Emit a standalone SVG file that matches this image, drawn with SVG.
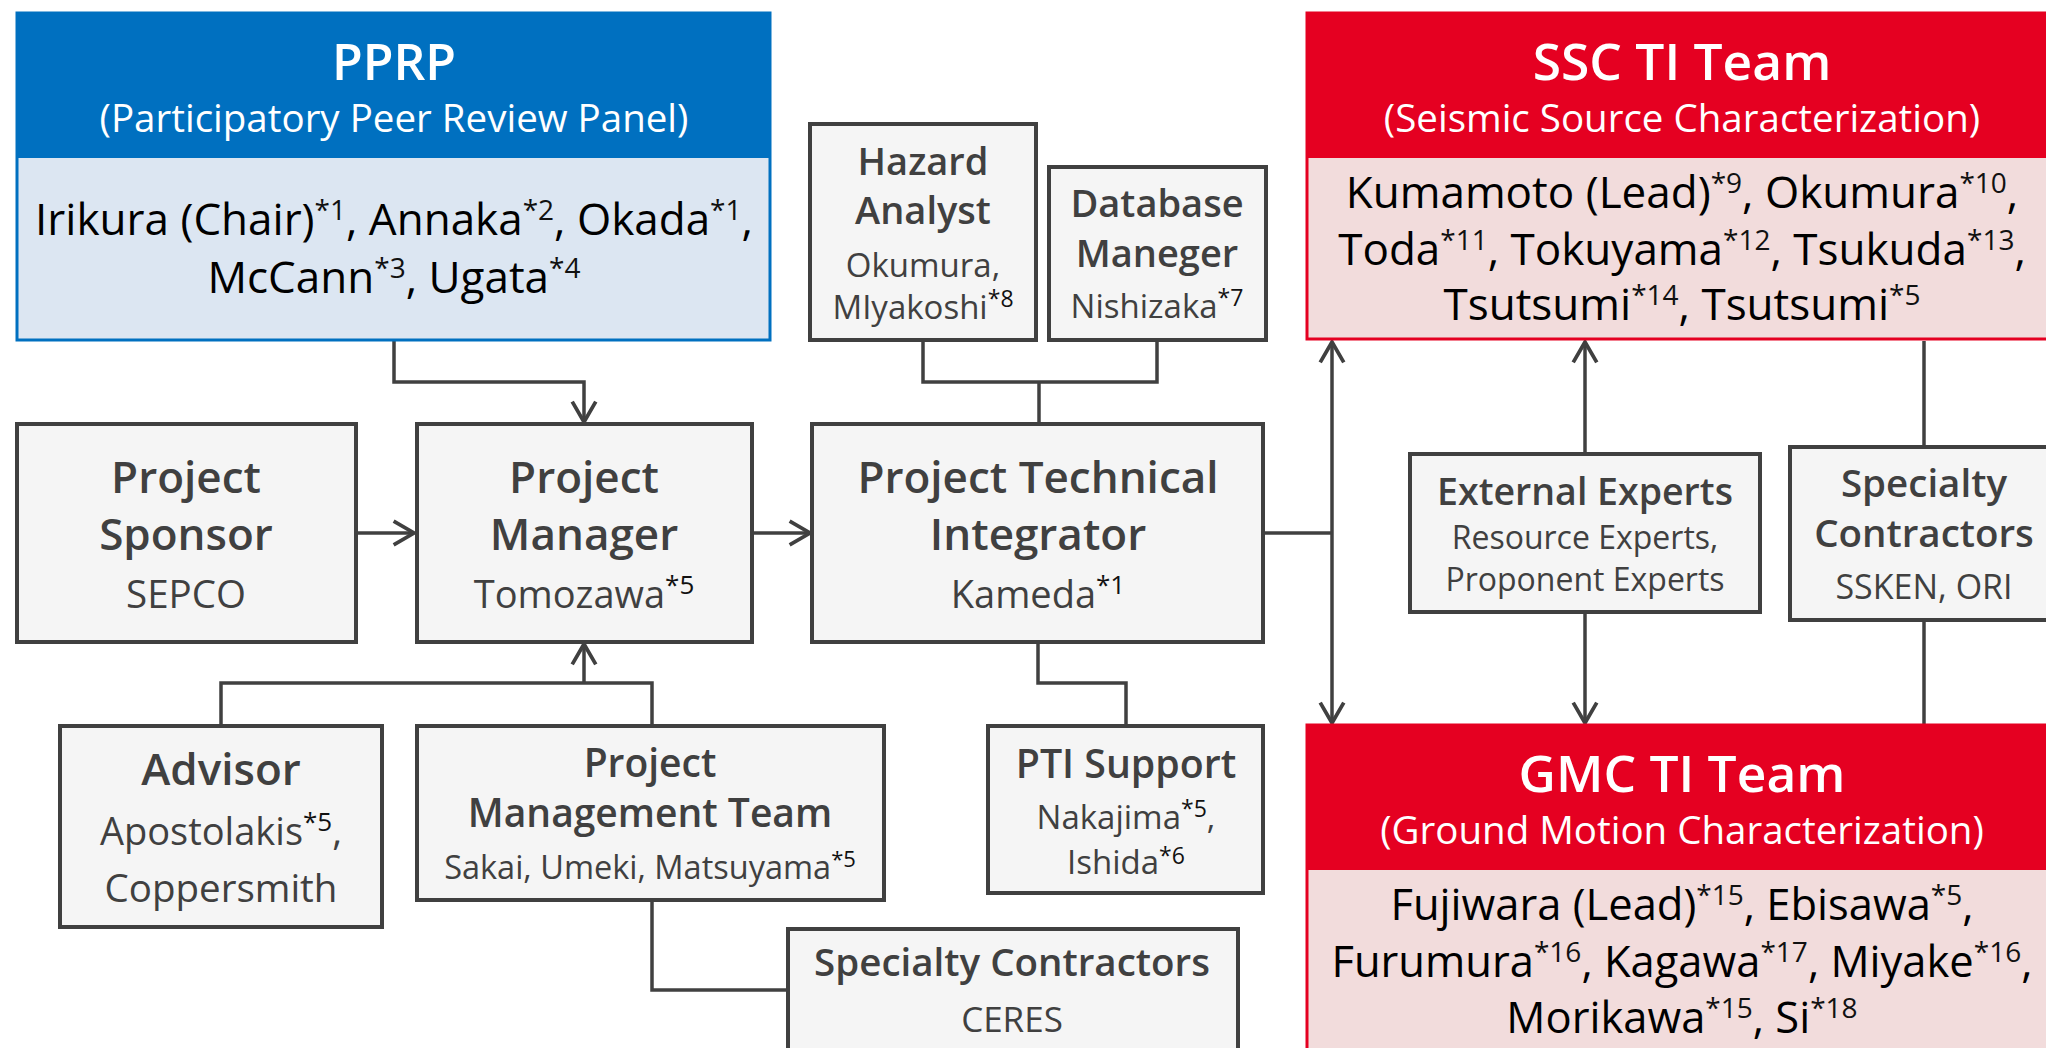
<svg xmlns="http://www.w3.org/2000/svg" width="2046" height="1048" viewBox="0 0 2046 1048">
  <style>
    .box { fill: #F5F5F5; stroke: #404040; stroke-width: 4; }
    .t { font-family: "Open Sans", "Noto Sans", "DejaVu Sans", sans-serif; text-anchor: middle; fill: #404040; }
    .b { font-weight: 600; }
    .w { fill: #FFFFFF; }
    .k { fill: #000000; }
    .sup { fill: #111111; }
    .conn { fill: none; stroke: #404040; stroke-width: 3.5; }
    .blueHead { fill: #0070C0; }
    .blueBody { fill: #DCE6F2; }
    .blueFrame { fill: none; stroke: #0070C0; stroke-width: 3; }
    .redHead { fill: #E50021; }
    .redBody { fill: #F2DCDC; }
    .redFrame { fill: none; stroke: #E50021; stroke-width: 3; }
  </style>
  <defs>
    <marker id="arrow" markerUnits="userSpaceOnUse" markerWidth="30" markerHeight="30" viewBox="-24 -14 28 28" refX="0" refY="0" orient="auto-start-reverse">
      <path d="M -19 -11 L 0 0 L -19 11" fill="none" stroke="#404040" stroke-width="3.5" stroke-linejoin="miter"/>
    </marker>
  </defs>

  <rect width="2046" height="1048" fill="#FFFFFF"/>

  <!-- connectors -->
  <g id="connectors">
    <path class="conn" d="M 394 340 V 382 H 584 V 422" marker-end="url(#arrow)"/>
    <path class="conn" d="M 356 533 H 414" marker-end="url(#arrow)"/>
    <path class="conn" d="M 752 533 H 810" marker-end="url(#arrow)"/>
    <path class="conn" d="M 221 726 V 683 H 652 V 726"/>
    <path class="conn" d="M 584 683 V 644" marker-end="url(#arrow)"/>
    <path class="conn" d="M 652 900 V 990 H 788"/>
    <path class="conn" d="M 923 340 V 382 H 1157 V 340"/>
    <path class="conn" d="M 1039 382 V 424"/>
    <path class="conn" d="M 1038 642 V 683 H 1126 V 726"/>
    <path class="conn" d="M 1263 533 H 1332"/>
    <path class="conn" d="M 1332 723 V 342" marker-start="url(#arrow)" marker-end="url(#arrow)"/>
    <path class="conn" d="M 1585 454 V 342" marker-end="url(#arrow)"/>
    <path class="conn" d="M 1585 612 V 723" marker-end="url(#arrow)"/>
    <path class="conn" d="M 1924 341 V 447"/>
    <path class="conn" d="M 1924 620 V 725"/>
  </g>

  <!-- PPRP -->
  <g id="pprp">
    <rect class="blueHead" x="17" y="13" width="753" height="145"/>
    <rect class="blueBody" x="17" y="158" width="753" height="182"/>
    <rect class="blueFrame" x="17" y="13" width="753" height="327"/>
    <text class="t w b" x="394" y="80" font-size="50">PPRP</text>
    <text class="t w" x="394" y="132" font-size="38.5">(Participatory Peer Review Panel)</text>
    <text class="t k" x="394" y="235" font-size="44">Irikura (Chair)<tspan class="sup" font-size="28" dy="-15">*1</tspan><tspan dy="15">, Annaka</tspan><tspan class="sup" font-size="28" dy="-15">*2</tspan><tspan dy="15">, Okada</tspan><tspan class="sup" font-size="28" dy="-15">*1</tspan><tspan dy="15">,</tspan></text>
    <text class="t k" x="394" y="293" font-size="44">McCann<tspan class="sup" font-size="28" dy="-15">*3</tspan><tspan dy="15">, Ugata</tspan><tspan class="sup" font-size="28" dy="-15">*4</tspan></text>
  </g>

  <!-- Hazard Analyst -->
  <g id="hazard-analyst">
    <rect class="box" x="810" y="124" width="226" height="216"/>
    <text class="t b" x="923" y="175" font-size="38">Hazard</text>
    <text class="t b" x="923" y="224" font-size="38">Analyst</text>
    <text class="t" x="923" y="277" font-size="33">Okumura,</text>
    <text class="t" x="923" y="319" font-size="33">MIyakoshi<tspan class="sup" font-size="23" dy="-12">*8</tspan></text>
  </g>

  <!-- Database Maneger -->
  <g id="database-maneger">
    <rect class="box" x="1049" y="167" width="217" height="173"/>
    <text class="t b" x="1157" y="217" font-size="38">Database</text>
    <text class="t b" x="1157" y="267" font-size="38">Maneger</text>
    <text class="t" x="1157" y="318" font-size="33">Nishizaka<tspan class="sup" font-size="23" dy="-12">*7</tspan></text>
  </g>

  <!-- SSC TI Team -->
  <g id="ssc-ti-team">
    <rect class="redHead" x="1307" y="13" width="760" height="145"/>
    <rect class="redBody" x="1307" y="158" width="760" height="181"/>
    <rect class="redFrame" x="1307" y="13" width="760" height="326"/>
    <text class="t w b" x="1682" y="80" font-size="51.5">SSC TI Team</text>
    <text class="t w" x="1682" y="132" font-size="38.5">(Seismic Source Characterization)</text>
    <text class="t k" x="1682" y="208" font-size="44">Kumamoto (Lead)<tspan class="sup" font-size="28" dy="-15">*9</tspan><tspan dy="15">, Okumura</tspan><tspan class="sup" font-size="28" dy="-15">*10</tspan><tspan dy="15">,</tspan></text>
    <text class="t k" x="1682" y="265" font-size="44">Toda<tspan class="sup" font-size="28" dy="-15">*11</tspan><tspan dy="15">, Tokuyama</tspan><tspan class="sup" font-size="28" dy="-15">*12</tspan><tspan dy="15">, Tsukuda</tspan><tspan class="sup" font-size="28" dy="-15">*13</tspan><tspan dy="15">,</tspan></text>
    <text class="t k" x="1682" y="320" font-size="44">Tsutsumi<tspan class="sup" font-size="28" dy="-15">*14</tspan><tspan dy="15">, Tsutsumi</tspan><tspan class="sup" font-size="28" dy="-15">*5</tspan></text>
  </g>

  <!-- Project Sponsor -->
  <g id="project-sponsor">
    <rect class="box" x="17" y="424" width="339" height="218"/>
    <text class="t b" x="186" y="493" font-size="44">Project</text>
    <text class="t b" x="186" y="550" font-size="44">Sponsor</text>
    <text class="t" x="186" y="608" font-size="38.5">SEPCO</text>
  </g>

  <!-- Project Manager -->
  <g id="project-manager">
    <rect class="box" x="417" y="424" width="335" height="218"/>
    <text class="t b" x="584" y="493" font-size="44">Project</text>
    <text class="t b" x="584" y="550" font-size="44">Manager</text>
    <text class="t" x="584" y="608" font-size="38">Tomozawa<tspan class="sup" font-size="26" dy="-14">*5</tspan></text>
  </g>

  <!-- Project Technical Integrator -->
  <g id="project-technical-integrator">
    <rect class="box" x="812" y="424" width="451" height="218"/>
    <text class="t b" x="1038" y="493" font-size="44">Project Technical</text>
    <text class="t b" x="1038" y="550" font-size="44">Integrator</text>
    <text class="t" x="1038" y="608" font-size="38">Kameda<tspan class="sup" font-size="26" dy="-14">*1</tspan></text>
  </g>

  <!-- External Experts -->
  <g id="external-experts">
    <rect class="box" x="1410" y="454" width="350" height="158"/>
    <text class="t b" x="1585" y="505" font-size="37.5">External Experts</text>
    <text class="t" x="1585" y="549" font-size="32">Resource Experts,</text>
    <text class="t" x="1585" y="591" font-size="32">Proponent Experts</text>
  </g>

  <!-- Specialty Contractors (SSC side) -->
  <g id="specialty-contractors-ssc">
    <rect class="box" x="1790" y="447" width="270" height="173"/>
    <text class="t b" x="1924" y="497" font-size="38.5">Specialty</text>
    <text class="t b" x="1924" y="547" font-size="38.5">Contractors</text>
    <text class="t" x="1924" y="599" font-size="34">SSKEN, ORI</text>
  </g>

  <!-- Advisor -->
  <g id="advisor">
    <rect class="box" x="60" y="726" width="322" height="201"/>
    <text class="t b" x="221" y="785" font-size="44">Advisor</text>
    <text class="t" x="221" y="845" font-size="38">Apostolakis<tspan class="sup" font-size="26" dy="-14">*5</tspan><tspan dy="14">,</tspan></text>
    <text class="t" x="221" y="902" font-size="38.5">Coppersmith</text>
  </g>

  <!-- Project Management Team -->
  <g id="project-management-team">
    <rect class="box" x="417" y="726" width="467" height="174"/>
    <text class="t b" x="650" y="777" font-size="39">Project</text>
    <text class="t b" x="650" y="827" font-size="39">Management Team</text>
    <text class="t" x="650" y="879" font-size="32.5">Sakai, Umeki, Matsuyama<tspan class="sup" font-size="22" dy="-12">*5</tspan></text>
  </g>

  <!-- PTI Support -->
  <g id="pti-support">
    <rect class="box" x="988" y="726" width="275" height="167"/>
    <text class="t b" x="1126" y="778" font-size="39.3">PTI Support</text>
    <text class="t" x="1126" y="829" font-size="33">Nakajima<tspan class="sup" font-size="23" dy="-12">*5</tspan><tspan dy="12">,</tspan></text>
    <text class="t" x="1126" y="874" font-size="33">Ishida<tspan class="sup" font-size="23" dy="-10">*6</tspan></text>
  </g>

  <!-- Specialty Contractors (project side) -->
  <g id="specialty-contractors-ceres">
    <rect class="box" x="788" y="929" width="450" height="140"/>
    <text class="t b" x="1012" y="976" font-size="38.5">Specialty Contractors</text>
    <text class="t" x="1012" y="1032" font-size="35">CERES</text>
  </g>

  <!-- GMC TI Team -->
  <g id="gmc-ti-team">
    <rect class="redHead" x="1307" y="725" width="760" height="145"/>
    <rect class="redBody" x="1307" y="870" width="760" height="200"/>
    <rect class="redFrame" x="1307" y="725" width="760" height="345"/>
    <text class="t w b" x="1682" y="792" font-size="51.5">GMC TI Team</text>
    <text class="t w" x="1682" y="844" font-size="38.5">(Ground Motion Characterization)</text>
    <text class="t k" x="1682" y="920" font-size="43.5">Fujiwara (Lead)<tspan class="sup" font-size="28" dy="-15">*15</tspan><tspan dy="15">, Ebisawa</tspan><tspan class="sup" font-size="28" dy="-15">*5</tspan><tspan dy="15">,</tspan></text>
    <text class="t k" x="1682" y="977" font-size="43.5">Furumura<tspan class="sup" font-size="28" dy="-15">*16</tspan><tspan dy="15">, Kagawa</tspan><tspan class="sup" font-size="28" dy="-15">*17</tspan><tspan dy="15">, Miyake</tspan><tspan class="sup" font-size="28" dy="-15">*16</tspan><tspan dy="15">,</tspan></text>
    <text class="t k" x="1682" y="1033" font-size="43.5">Morikawa<tspan class="sup" font-size="28" dy="-15">*15</tspan><tspan dy="15">, Si</tspan><tspan class="sup" font-size="28" dy="-15">*18</tspan></text>
  </g>
</svg>
